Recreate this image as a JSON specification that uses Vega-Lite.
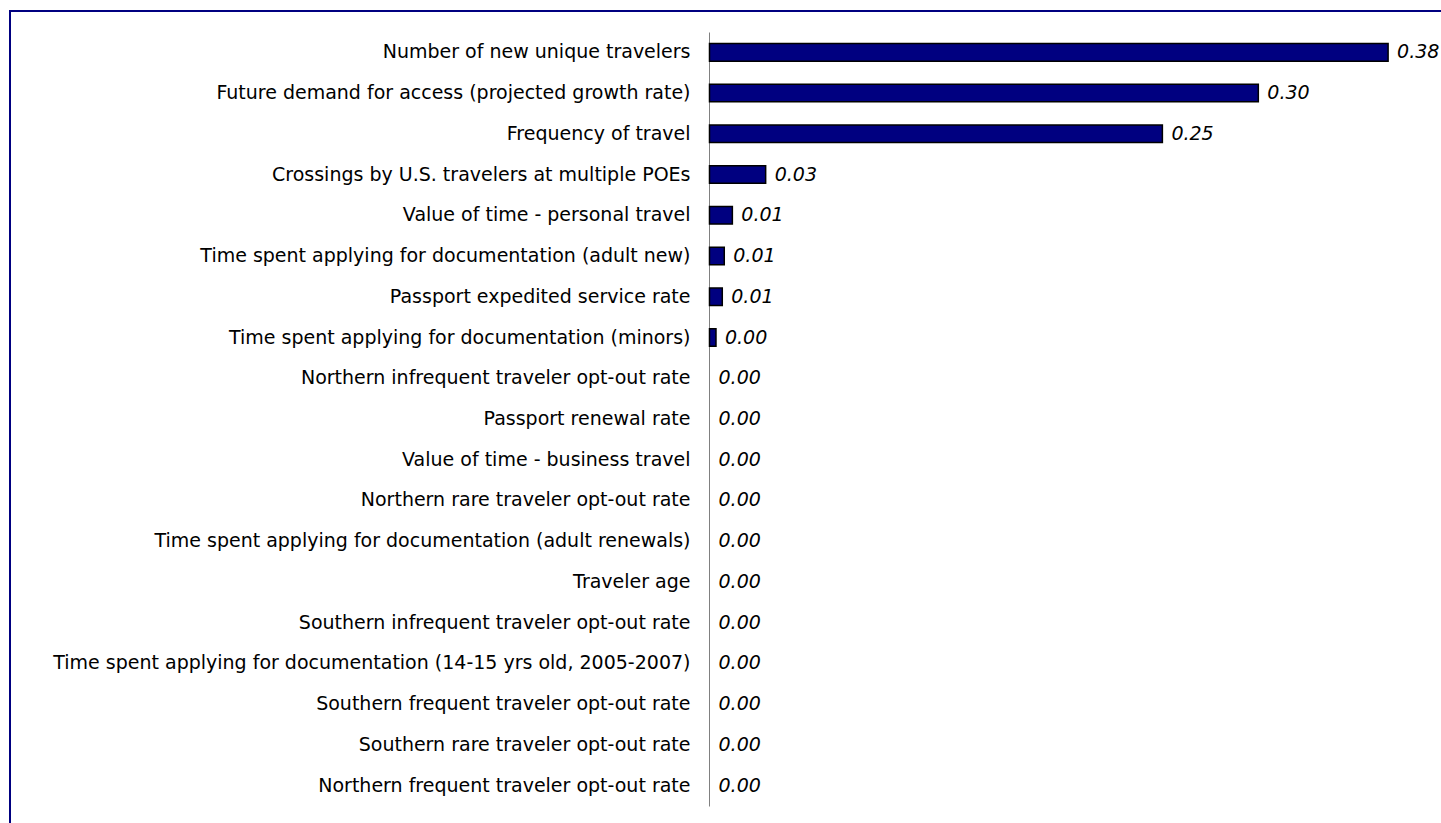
{
  "$schema": "https://vega.github.io/schema/vega-lite/v6.json",
  "width": 1432,
  "height": 813,
  "autosize": {"type": "none"},
  "padding": {"left": 10, "top": 11, "right": 0, "bottom": 0},
  "background": "white",
  "config": {"view": {"stroke": "#000080", "strokeWidth": 2}},
  "data": {
    "values": [
      {"factor": "Number of new unique travelers", "value": 0.377},
      {"factor": "Future demand for access (projected growth rate)", "value": 0.3049},
      {"factor": "Frequency of travel", "value": 0.2516},
      {"factor": "Crossings by U.S. travelers at multiple POEs", "value": 0.0312},
      {"factor": "Value of time - personal travel", "value": 0.0127},
      {"factor": "Time spent applying for documentation (adult new)", "value": 0.0082},
      {"factor": "Passport expedited service rate", "value": 0.0071},
      {"factor": "Time spent applying for documentation (minors)", "value": 0.0036},
      {"factor": "Northern infrequent traveler opt-out rate", "value": 0},
      {"factor": "Passport renewal rate", "value": 0},
      {"factor": "Value of time - business travel", "value": 0},
      {"factor": "Northern rare traveler opt-out rate", "value": 0},
      {"factor": "Time spent applying for documentation (adult renewals)", "value": 0},
      {"factor": "Traveler age", "value": 0},
      {"factor": "Southern infrequent traveler opt-out rate", "value": 0},
      {"factor": "Time spent applying for documentation (14-15 yrs old, 2005-2007)", "value": 0},
      {"factor": "Southern frequent traveler opt-out rate", "value": 0},
      {"factor": "Southern rare traveler opt-out rate", "value": 0},
      {"factor": "Northern frequent traveler opt-out rate", "value": 0}
    ]
  },
  "encoding": {
    "y": {
      "field": "factor",
      "type": "nominal",
      "sort": null,
      "scale": {"range": [21, 795], "paddingInner": 0.57, "paddingOuter": 0.285},
      "axis": {
        "title": null,
        "offset": -699,
        "ticks": false,
        "labelPadding": 19,
        "domainColor": "#808080",
        "domainWidth": 1,
        "labelFont": "DejaVu Sans",
        "labelFontSize": 19,
        "labelColor": "#000000",
        "labelLimit": 0,
        "grid": false
      }
    },
    "x": {
      "field": "value",
      "type": "quantitative",
      "scale": {"domain": [0, 0.4], "range": [699.5, 1419.5]},
      "axis": null
    }
  },
  "layer": [
    {
      "mark": {"type": "bar", "color": "#000080", "stroke": "#000000", "strokeWidth": 1.5},
      "encoding": {
        "strokeOpacity": {"condition": {"test": "datum.value > 0", "value": 1}, "value": 0}
      }
    },
    {
      "mark": {"type": "text", "align": "left", "baseline": "middle", "dx": 9, "fontStyle": "italic", "font": "DejaVu Sans", "fontSize": 19, "color": "#000000"},
      "encoding": {"text": {"field": "value", "type": "quantitative", "format": ".2f"}}
    }
  ]
}
